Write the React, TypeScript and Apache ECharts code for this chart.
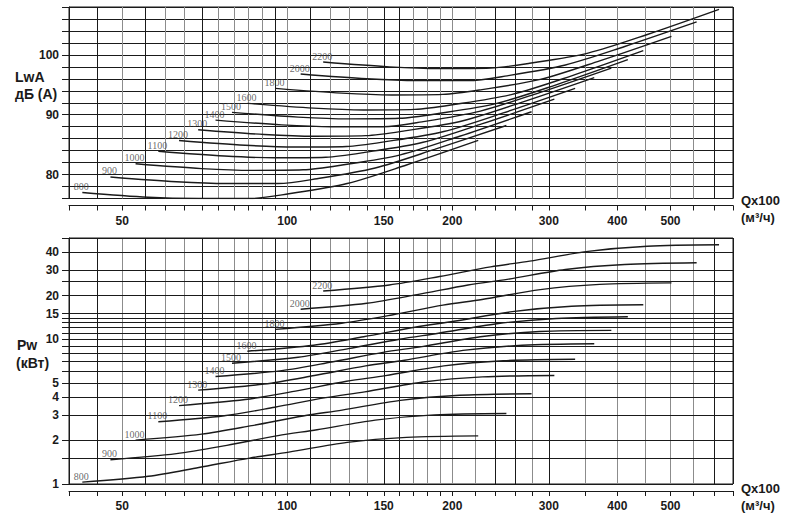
import React, { useEffect, useRef } from "react";
import * as echarts from "echarts";

// Fan speeds (rpm) – one curve per speed in each chart
const speeds = ["800", "900", "1000", "1100", "1200", "1300", "1400", "1500", "1600", "1800", "2000", "2200"];

const flowPoints: number[][] = [
  [42.3, 55.8, 69.0, 85.4, 100.7, 128.6, 165.0, 223],
  [47.6, 62.8, 77.6, 96.2, 113.3, 144.7, 185.6, 251],
  [52.9, 69.8, 86.2, 106.9, 125.9, 160.8, 206.3, 279],
  [58.2, 76.8, 94.9, 117.6, 138.5, 176.9, 227.0, 307],
  [63.5, 83.8, 103.5, 128.3, 151.1, 193.0, 247.7, 335],
  [68.8, 90.8, 112.1, 139.0, 163.7, 209.2, 268.3, 363],
  [74.0, 97.7, 120.6, 149.5, 176.1, 225.0, 288.6, 390],
  [79.3, 104.7, 129.3, 160.2, 188.7, 241.1, 309.3, 418],
  [84.6, 111.7, 137.9, 170.9, 201.3, 257.2, 330.0, 446],
  [95.2, 125.7, 155.2, 192.3, 226.6, 289.4, 371.3, 502],
  [105.8, 139.7, 172.5, 213.7, 251.8, 321.6, 412.6, 558],
  [116.3, 153.5, 189.6, 234.9, 276.8, 353.6, 453.6, 613],
];

// Sound power LwA dB(A) at the flow points above
const noiseLevels: number[][] = [
  [77.0, 76.2, 76.0, 76.0, 76.8, 78.5, 81.6, 85.7],
  [79.6, 78.8, 78.5, 78.5, 79.3, 81.1, 84.2, 88.2],
  [81.8, 81.0, 80.7, 80.8, 81.6, 83.3, 86.4, 90.5],
  [83.9, 83.1, 82.8, 82.9, 83.7, 85.4, 88.5, 92.6],
  [85.7, 84.9, 84.6, 84.7, 85.5, 87.2, 90.3, 94.4],
  [87.5, 86.7, 86.4, 86.5, 87.3, 89.0, 92.1, 96.2],
  [89.1, 88.3, 88.0, 88.0, 88.8, 90.6, 93.7, 97.8],
  [90.4, 89.6, 89.3, 89.4, 90.2, 91.9, 95.0, 99.2],
  [91.9, 91.1, 90.8, 90.9, 91.7, 93.4, 96.5, 100.7],
  [94.4, 93.6, 93.3, 93.4, 94.2, 95.9, 99.0, 103.1],
  [96.8, 96.0, 95.7, 95.7, 96.5, 98.3, 101.4, 105.5],
  [98.8, 98.0, 97.7, 97.8, 98.6, 100.3, 103.4, 107.6],
];

// Power Pw kW at the flow points above
const powerLevels: number[][] = [
  [1.03, 1.13, 1.30, 1.51, 1.66, 1.94, 2.10, 2.15],
  [1.47, 1.62, 1.85, 2.16, 2.37, 2.76, 3.00, 3.07],
  [2.01, 2.21, 2.53, 2.95, 3.24, 3.78, 4.10, 4.20],
  [2.69, 2.96, 3.39, 3.95, 4.33, 5.06, 5.49, 5.62],
  [3.48, 3.83, 4.38, 5.12, 5.60, 6.54, 7.10, 7.27],
  [4.45, 4.90, 5.61, 6.54, 7.16, 8.37, 9.08, 9.30],
  [5.52, 6.07, 6.96, 8.11, 8.89, 10.4, 11.3, 11.5],
  [6.83, 7.51, 8.61, 10.0, 11.0, 12.8, 13.9, 14.3],
  [8.26, 9.09, 10.4, 12.1, 13.3, 15.5, 16.9, 17.3],
  [11.7, 12.9, 14.7, 17.2, 18.8, 22.0, 23.9, 24.5],
  [16.1, 17.7, 20.3, 23.7, 25.9, 30.3, 32.8, 33.7],
  [21.5, 23.7, 27.1, 31.6, 34.6, 40.4, 43.9, 44.9],
];

// Axis grids / ticks
const flowGrid = [40, 45, 50, 55, 60, 65, 70, 75, 80, 85, 90, 95, 100, 110, 120, 130, 140, 150, 160, 170, 180, 190, 200, 220, 240, 260, 280, 300, 350, 400, 450, 500, 550, 600, 650];
const flowGridDark = [40, 45, 55, 70, 95, 110, 150, 160, 240, 260, 300, 600, 650];
const flowLabels = [50, 100, 150, 200, 300, 400, 500];
const noiseLabels = [80, 90, 100];
const powerGrid = [1, 1.5, 2, 3, 4, 5, 6, 7, 8, 9, 10, 11, 12, 13, 14, 15, 20, 25, 30, 40, 50];
const powerLabels = [1, 2, 3, 4, 5, 10, 15, 20, 30, 40];

const INK = "#1a1a1a";
const GRAY = "#8c8c8c";
const tickFont = { fontFamily: "Liberation Sans", fontWeight: "bold" as const, fontSize: 12, color: INK };

export default function App() {
  const ref = useRef<HTMLDivElement>(null);

  useEffect(() => {
    if (!ref.current) return;
    const chart = echarts.init(ref.current, undefined, { renderer: "svg" });

    const xAxisFor = (g: number) => ({
      type: "log",
      logBase: 10,
      gridIndex: g,
      min: 40,
      max: 650,
      offset: 7,
      axisLine: { show: true, onZero: false, lineStyle: { color: INK, width: 1 } },
      axisTick: { show: true, length: 5, inside: false, customValues: flowGrid, lineStyle: { color: INK, width: 1 } },
      axisLabel: { show: true, customValues: flowLabels, margin: 9, formatter: (v: number) => String(Math.round(v)), ...tickFont },
      splitLine: { show: false },
      minorTick: { show: false },
      minorSplitLine: { show: false },
    });

    const verticalLines = flowGrid.map((q) => ({
      xAxis: q,
      lineStyle: { color: flowGridDark.indexOf(q) >= 0 ? INK : GRAY, width: 1, type: "solid" },
    }));
    const powerLines = powerGrid.map((p) => ({
      yAxis: p,
      lineStyle: { color: INK, width: 1, type: "solid" },
    }));

    const gridSeries = (g: number, extra: any[]) => ({
      type: "line",
      xAxisIndex: g,
      yAxisIndex: g,
      data: [],
      silent: true,
      z: 1,
      markLine: {
        silent: true,
        z: 1,
        symbol: ["none", "none"],
        label: { show: false },
        emphasis: { disabled: true },
        data: [...verticalLines, ...extra],
      },
    });

    const curveSeries = (g: number, values: number[][]) =>
      speeds.map((s, i) => ({
        type: "line",
        name: (g === 0 ? "LwA " : "Pw ") + s,
        xAxisIndex: g,
        yAxisIndex: g,
        data: flowPoints[i].map((q, j) => [q, values[i][j]]),
        smooth: 0.3,
        showSymbol: false,
        symbol: "none",
        silent: true,
        z: 10,
        lineStyle: { color: INK, width: 1.4 },
      }));

    const labelSeries = (g: number, values: number[][]) => ({
      type: "scatter",
      xAxisIndex: g,
      yAxisIndex: g,
      symbolSize: 0,
      silent: true,
      z: 12,
      data: speeds.map((s, i) => ({ name: s, value: [flowPoints[i][0], values[i][0]] })),
      label: {
        show: true,
        position: "top",
        distance: 1,
        offset: [-1, 0],
        formatter: "{b}",
        fontFamily: "Liberation Serif",
        fontSize: 10,
        color: "#444",
      },
    });

    const titleFont = 'bold 14px "Liberation Sans"';
    const qFont = 'bold 13px "Liberation Sans"';

    chart.setOption({
      animation: false,
      backgroundColor: "#ffffff",
      grid: [
        { left: 69, top: 7, width: 664, height: 191.5, show: true, borderColor: INK, borderWidth: 1, backgroundColor: "transparent" },
        { left: 69, top: 238, width: 664, height: 246, show: true, borderColor: INK, borderWidth: 1, backgroundColor: "transparent" },
      ],
      xAxis: [xAxisFor(0), xAxisFor(1)],
      yAxis: [
        {
          type: "value",
          gridIndex: 0,
          min: 76,
          max: 108,
          interval: 2,
          axisLine: { show: true, lineStyle: { color: INK, width: 1 } },
          axisTick: { show: true, length: 7, lineStyle: { color: INK, width: 1 } },
          axisLabel: {
            margin: 10,
            formatter: (v: number) => (noiseLabels.indexOf(v) >= 0 ? String(v) : ""),
            ...tickFont,
          },
          splitLine: { show: true, lineStyle: { color: INK, width: 1 } },
        },
        {
          type: "log",
          logBase: 10,
          gridIndex: 1,
          min: 1,
          max: 50,
          axisLine: { show: true, lineStyle: { color: INK, width: 1 } },
          axisTick: { show: true, length: 7, customValues: powerGrid, lineStyle: { color: INK, width: 1 } },
          axisLabel: { margin: 10, customValues: powerLabels, formatter: (v: number) => String(+v.toFixed(1)), ...tickFont },
          splitLine: { show: false },
          minorTick: { show: false },
          minorSplitLine: { show: false },
        },
      ],
      graphic: [
        { type: "text", left: 15, top: 70, style: { text: "LwA", font: titleFont, fill: INK } },
        { type: "text", left: 15, top: 87, style: { text: "дБ (A)", font: titleFont, fill: INK } },
        { type: "text", left: 17, top: 338, style: { text: "Pw", font: titleFont, fill: INK } },
        { type: "text", left: 16, top: 356, style: { text: "(кВт)", font: titleFont, fill: INK } },
        { type: "text", left: 741, top: 194, style: { text: "Qx100", font: qFont, fill: INK } },
        { type: "text", left: 741, top: 211, style: { text: "(м³/ч)", font: qFont, fill: INK } },
        { type: "text", left: 741, top: 482, style: { text: "Qx100", font: qFont, fill: INK } },
        { type: "text", left: 741, top: 499, style: { text: "(м³/ч)", font: qFont, fill: INK } },
      ],
      series: [
        gridSeries(0, []),
        gridSeries(1, powerLines),
        ...curveSeries(0, noiseLevels),
        ...curveSeries(1, powerLevels),
        labelSeries(0, noiseLevels),
        labelSeries(1, powerLevels),
      ],
    });

    return () => chart.dispose();
  }, []);

  return <div ref={ref} style={{ position: "fixed", left: 0, top: 0, width: 800, height: 529, background: "#fff" }} />;
}
